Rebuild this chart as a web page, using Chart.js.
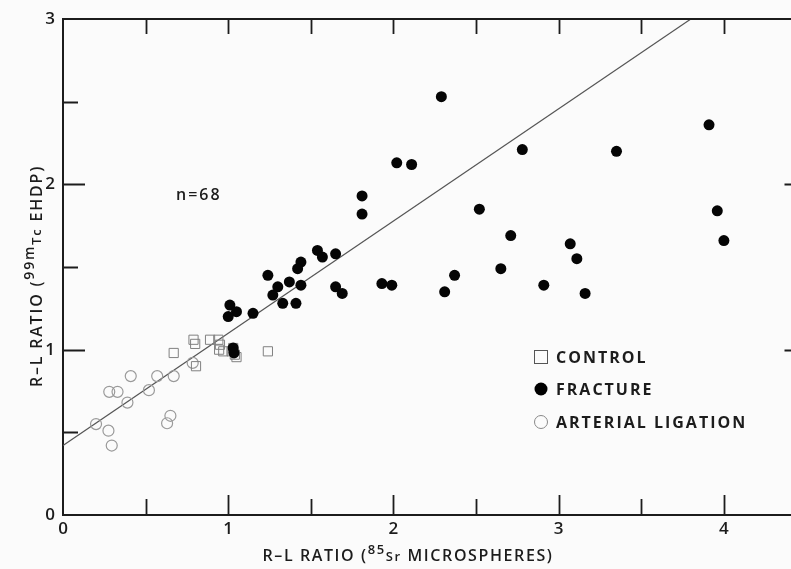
<!DOCTYPE html>
<html>
<head>
<meta charset="utf-8">
<script src="https://cdn.jsdelivr.net/npm/chart.js@4.4.1/dist/chart.umd.min.js"></script>
<style>
  html, body { margin: 0; padding: 0; background: #fbfbfb; overflow: hidden; width: 791px; height: 569px; }
  #wrap { position: absolute; left: 0; top: 0; width: 814px; height: 569px; }
</style>
</head>
<body>
<div id="wrap"><canvas id="c" width="814" height="569"></canvas></div>
<script>
// Fracture group (filled circles)
const fractureX = [1.81, 1.81, 1.54, 1.57, 1.65, 1.44, 1.42, 1.24, 1.37, 1.30, 1.44, 1.27, 1.65, 1.69, 1.33, 1.41, 1.01, 1.05, 1.00, 1.15,
                   2.29, 2.02, 2.11, 2.78, 3.35, 2.52, 2.71, 3.07, 3.11, 2.37, 2.65, 1.93, 1.99, 2.31, 2.91, 3.16,
                   3.91, 3.96, 4.00, 1.03, 1.035];
const fractureY = [1.93, 1.82, 1.60, 1.56, 1.58, 1.53, 1.49, 1.45, 1.41, 1.38, 1.39, 1.33, 1.38, 1.34, 1.28, 1.28, 1.27, 1.23, 1.20, 1.22,
                   2.53, 2.13, 2.12, 2.21, 2.20, 1.85, 1.69, 1.64, 1.55, 1.45, 1.49, 1.40, 1.39, 1.35, 1.39, 1.34,
                   2.36, 1.84, 1.66, 1.01, 0.98];

// Control group (open squares)
const controlX = [0.79, 0.80, 0.89, 0.94, 0.945, 0.97, 0.67, 1.24, 1.02, 1.04, 1.05, 1.03, 0.805, 0.95];
const controlY = [1.06, 1.035, 1.06, 1.06, 1.00, 0.99, 0.98, 0.99, 0.99, 0.97, 0.955, 1.01, 0.90, 1.03];

// Arterial ligation group (open circles)
const ligationX = [0.41, 0.57, 0.67, 0.28, 0.33, 0.52, 0.39, 0.20, 0.275, 0.295, 0.65, 0.63, 0.785];
const ligationY = [0.84, 0.84, 0.84, 0.745, 0.745, 0.755, 0.68, 0.55, 0.51, 0.42, 0.60, 0.555, 0.92];

// Regression line end points
const fitX = [0, 3.8];
const fitY = [0.42, 3.0];

// Axis ranges and labelled ticks
const xTickLabels = ['0', '1', '2', '3', '4'];
const yTickLabels = ['0', '1', '2', '3'];
const xMax = 4.5;
const yMax = 3;

const legendLabels = ['CONTROL', 'FRACTURE', 'ARTERIAL LIGATION'];
const sampleNote = 'n=68';

const pts = (xs, ys) => xs.map((x, i) => ({ x: x, y: ys[i] }));

const INK = '#1c1c1c';
const FONT = '"Open Sans", "DejaVu Sans", sans-serif';

// Inward tick marks on all four sides, plus top/right frame
const frameTicks = {
  id: 'frameTicks',
  afterDraw(chart) {
    const { ctx, chartArea: a, scales } = chart;
    const xs = scales.x, ys = scales.y;
    ctx.save();
    ctx.strokeStyle = INK;
    ctx.lineWidth = 2;
    ctx.beginPath();
    ctx.moveTo(a.left, a.top); ctx.lineTo(a.right, a.top); ctx.lineTo(a.right, a.bottom);
    ctx.stroke();
    ctx.lineWidth = 1.8;
    for (let v = 0.5; v < xMax; v += 0.5) {
      const px = Math.round(xs.getPixelForValue(v)) + 0.5;
      const len = Number.isInteger(v) ? 20 : 16;
      ctx.beginPath();
      ctx.moveTo(px, a.bottom); ctx.lineTo(px, a.bottom - len);
      ctx.moveTo(px, a.top); ctx.lineTo(px, a.top + 15);
      ctx.stroke();
    }
    for (let v = 0.5; v < yMax; v += 0.5) {
      const py = Math.round(ys.getPixelForValue(v)) + 0.5;
      const len = Number.isInteger(v) ? 22 : 15;
      ctx.beginPath();
      ctx.moveTo(a.left, py); ctx.lineTo(a.left + len, py);
      ctx.moveTo(a.right, py); ctx.lineTo(a.right - len, py);
      ctx.stroke();
    }
    ctx.restore();
  }
};

// Draws a run of text pieces: [text, size, dy]
function drawRun(ctx, parts, x, y, align, spacing) {
  ctx.letterSpacing = spacing + 'px';
  let total = 0;
  parts.forEach(p => { ctx.font = '600 ' + p[1] + 'px ' + FONT; total += ctx.measureText(p[0]).width; });
  let cx = align === 'center' ? x - total / 2 : x;
  ctx.textAlign = 'left';
  ctx.textBaseline = 'alphabetic';
  parts.forEach(p => {
    ctx.font = '600 ' + p[1] + 'px ' + FONT;
    ctx.fillText(p[0], cx, y + p[2]);
    cx += ctx.measureText(p[0]).width;
  });
}

// Axis titles, sample note and legend
const annotations = {
  id: 'annotations',
  afterDraw(chart) {
    const { ctx } = chart;
    ctx.save();
    ctx.fillStyle = INK;
    // x title
    drawRun(ctx, [['R\u2013L RATIO (', 16, 0], ['85', 13, -7], ['Sr', 13, 0], [' MICROSPHERES)', 16, 0]], 408, 561, 'center', 1.6);
    // y title
    ctx.save();
    ctx.translate(42, 276);
    ctx.rotate(-Math.PI / 2);
    drawRun(ctx, [['R\u2013L RATIO (', 16, 0], ['99m', 14, -8], ['Tc', 13, -1], [' EHDP)', 16, 0]], 0, 0, 'center', 1.8);
    ctx.restore();
    // n note
    ctx.font = '600 16px ' + FONT;
    ctx.letterSpacing = '2px';
    ctx.textAlign = 'left';
    ctx.textBaseline = 'middle';
    ctx.fillText(sampleNote, 176, 195);
    // legend
    const lx = 541, ly = [357, 389, 422], tx = 556;
    ctx.lineWidth = 1;
    ctx.strokeStyle = '#555';
    ctx.strokeRect(lx - 6.5, ly[0] - 6.5, 13, 13);
    ctx.beginPath(); ctx.arc(lx, ly[1], 6.5, 0, Math.PI * 2); ctx.fillStyle = '#000'; ctx.fill();
    ctx.beginPath(); ctx.arc(lx, ly[2], 6.5, 0, Math.PI * 2); ctx.strokeStyle = '#888'; ctx.stroke();
    ctx.fillStyle = INK;
    ctx.font = 'bold 16px ' + FONT;
    ctx.letterSpacing = '2px';
    ctx.textBaseline = 'middle';
    legendLabels.forEach((t, i) => ctx.fillText(t, tx, ly[i] + 1));
    ctx.restore();
  }
};

new Chart(document.getElementById('c'), {
  type: 'scatter',
  data: {
    datasets: [
      {
        type: 'line', label: 'fit', data: pts(fitX, fitY),
        borderColor: '#555', borderWidth: 1.2, pointRadius: 0, fill: false, order: 5
      },
      {
        label: legendLabels[2], data: pts(ligationX, ligationY),
        pointStyle: 'circle', pointRadius: 5.5, backgroundColor: 'rgba(0,0,0,0)',
        borderColor: '#9a9a9a', borderWidth: 1.2, order: 3
      },
      {
        label: legendLabels[0], data: pts(controlX, controlY),
        pointStyle: 'rect', pointRadius: 6.5, backgroundColor: 'rgba(0,0,0,0)',
        borderColor: '#808080', borderWidth: 1, order: 2
      },
      {
        label: legendLabels[1], data: pts(fractureX, fractureY),
        pointStyle: 'circle', pointRadius: 5.5, backgroundColor: '#050505',
        borderColor: '#050505', borderWidth: 0, order: 1
      }
    ]
  },
  options: {
    responsive: false,
    animation: false,
    layout: { padding: { top: 19, right: 1, left: 0, bottom: 0 } },
    plugins: { legend: { display: false }, tooltip: { enabled: false } },
    scales: {
      x: {
        type: 'linear', min: 0, max: xMax,
        grid: { display: false, drawTicks: false },
        border: { display: true, color: INK, width: 2 },
        ticks: {
          stepSize: 0.5, padding: 4, color: INK,
          font: { family: FONT, size: 17, weight: '600' },
          callback: v => (Number.isInteger(v) && xTickLabels.includes(String(v))) ? String(v) : ''
        },
        afterFit: s => { s.height = 54; }
      },
      y: {
        type: 'linear', min: 0, max: yMax,
        grid: { display: false, drawTicks: false },
        border: { display: true, color: INK, width: 2 },
        ticks: {
          stepSize: 0.5, padding: 8, color: INK,
          font: { family: FONT, size: 17, weight: '600' },
          callback: v => (Number.isInteger(v) && yTickLabels.includes(String(v))) ? String(v) : ''
        },
        afterFit: s => { s.width = 63; }
      }
    }
  },
  plugins: [frameTicks, annotations]
});
</script>
</body>
</html>
